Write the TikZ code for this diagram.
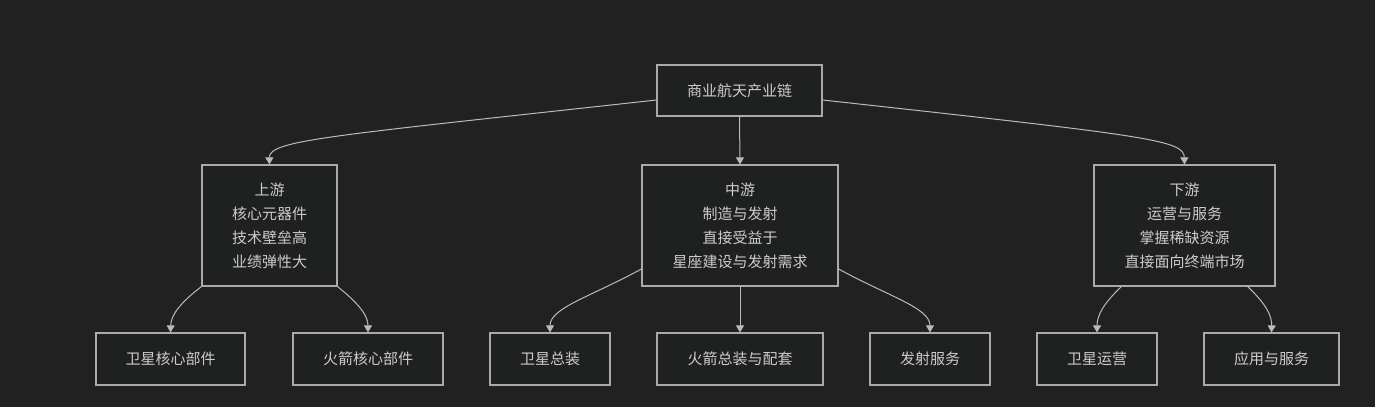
\documentclass[tikz,border=0pt]{standalone}
\usepackage{fontspec}
\setmainfont{Noto Sans CJK SC}
\usetikzlibrary{arrows.meta}
\definecolor{bg}{HTML}{212121}
\definecolor{nodefill}{HTML}{1F2020}
\definecolor{bordercol}{HTML}{AAAAAA}
\definecolor{txt}{HTML}{CCCCCC}
\definecolor{linecol}{HTML}{BBBBBB}
\begin{document}
\begin{tikzpicture}[x=1pt,y=-1pt,
 box/.style={draw=bordercol, fill=nodefill, line width=1.2pt, inner sep=0pt, align=center, text=txt, font=\fontsize{15}{24}\selectfont},
 topbox/.style={box, minimum height=51pt},
 midbox/.style={box, minimum height=121pt},
 leaf/.style={box, minimum height=52pt},
 edge/.style={draw=linecol, line width=1pt, -{Triangle[width=8pt,length=7pt]}}]
\fill[bg] (0,0) rectangle (1375,407);
\useasboundingbox (0,0) rectangle (1375,407);
\node[topbox, minimum width=165pt] (root) at (739.5,90.5) {商业航天产业链};
\node[midbox, minimum width=135pt] (up) at (269.5,225.5) {上游\\核心元器件\\技术壁垒高\\业绩弹性大};
\node[midbox, minimum width=196pt] (mid) at (740,225.5) {中游\\制造与发射\\直接受益于\\星座建设与发射需求};
\node[midbox, minimum width=181pt] (down) at (1184.5,225.5) {下游\\运营与服务\\掌握稀缺资源\\直接面向终端市场};
\node[leaf, minimum width=149pt] (L1) at (170.5,359) {卫星核心部件};
\node[leaf, minimum width=150pt] (L2) at (368,359) {火箭核心部件};
\node[leaf, minimum width=120pt] (L3) at (550,359) {卫星总装};
\node[leaf, minimum width=166pt] (L4) at (740,359) {火箭总装与配套};
\node[leaf, minimum width=120pt] (L5) at (930,359) {发射服务};
\node[leaf, minimum width=120pt] (L6) at (1097,359) {卫星运营};
\node[leaf, minimum width=135pt] (L7) at (1271.5,359) {应用与服务};
\draw[edge] ([yshift=-9.5pt]root.west) .. controls (330,136) and (269,140) .. (up.north);
\draw[edge] ([yshift=-9.5pt]root.east) .. controls (1150,136) and (1184,140) .. (down.north);
\draw[edge] (root.south) -- (mid.north);
\draw[edge] (up.south west) .. controls (180,303) and (171,315) .. (L1.north);
\draw[edge] (up.south east) .. controls (358,303) and (368,315) .. (L2.north);
\draw[edge] ([yshift=-43.5pt]mid.west) .. controls (590,297) and (550,308) .. (L3.north);
\draw[edge] (mid.south) -- (L4.north);
\draw[edge] ([yshift=-43.5pt]mid.east) .. controls (890,297) and (930,308) .. (L5.north);
\draw[edge] ([xshift=28pt]down.south west) .. controls (1104,303) and (1097,315) .. (L6.north);
\draw[edge] ([xshift=-28pt]down.south east) .. controls (1265,303) and (1272,315) .. (L7.north);
\end{tikzpicture}
\end{document}
